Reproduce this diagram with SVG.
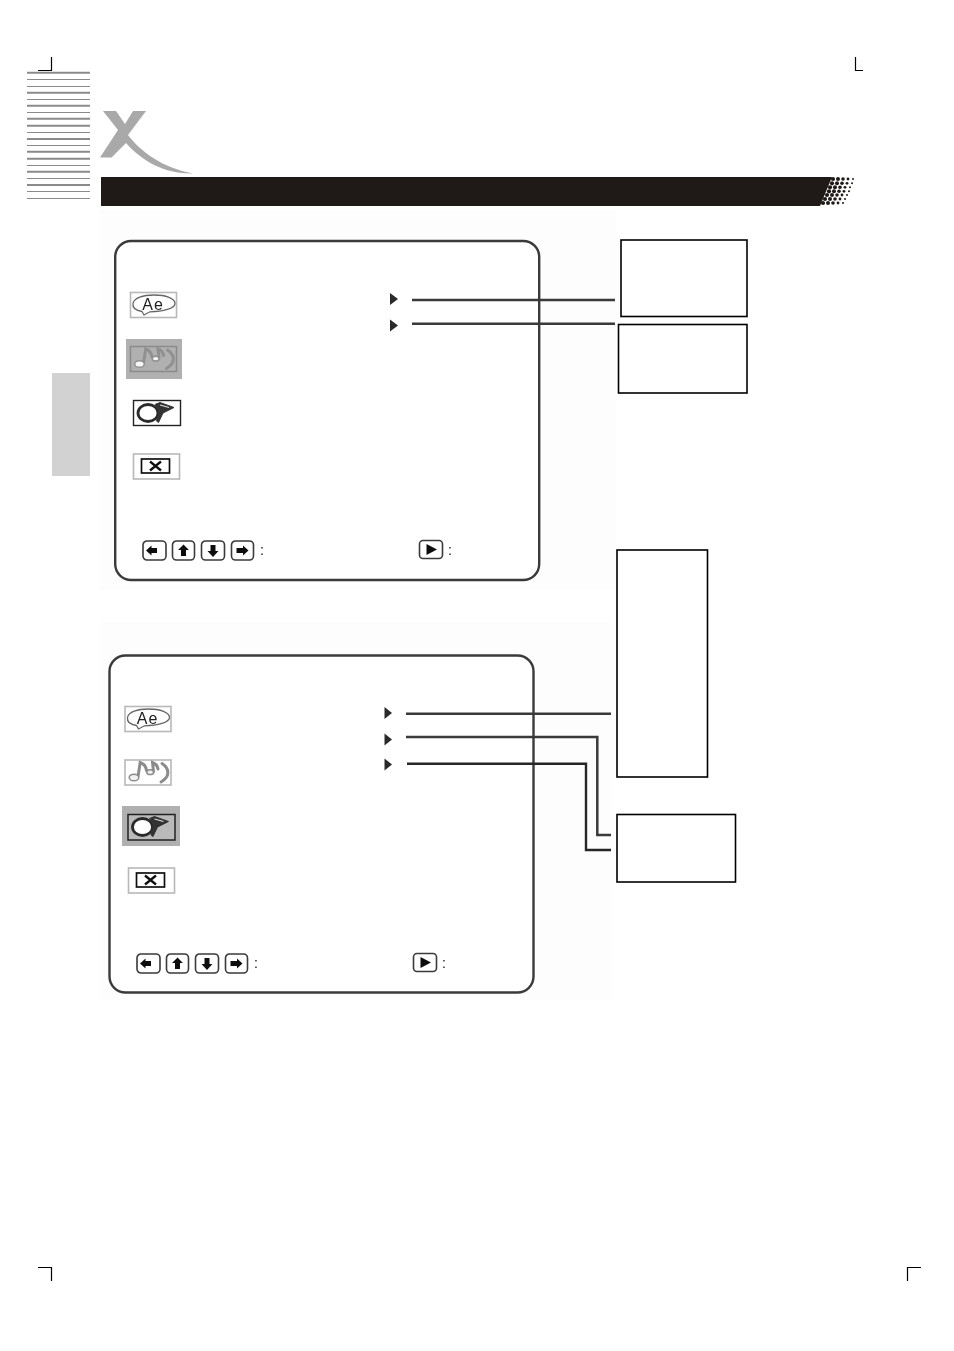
<svg xmlns="http://www.w3.org/2000/svg" width="954" height="1351" viewBox="0 0 954 1351">
<style>
.crop{fill:none;stroke:#000;stroke-width:1.2}
.thick{stroke:#8a8a8a;stroke-width:2}
.thin{stroke:#8a8a8a;stroke-width:1}
.panel{fill:#fff;stroke:#3a3a3a;stroke-width:2.4}
.box{fill:#fff;stroke:#000;stroke-width:1.6}
.conn{fill:none;stroke:#3a3a3a;stroke-width:2.5}
.conn2{fill:none;stroke:#262626;stroke-width:2.4}
.key{fill:#fff;stroke:#3a3a3a;stroke-width:1.6}
.glyph{fill:#111}
.colon{font-family:"Liberation Sans",Arial,sans-serif;font-size:14px;fill:#111}
.ae{font-family:"Liberation Sans",Arial,sans-serif;font-size:16px;fill:#222;text-anchor:middle;letter-spacing:1px}
.tri{fill:#2a2a2a}
.soft{filter:url(#soft)}
</style>
<defs>
<filter id="soft" x="-10%" y="-10%" width="120%" height="120%"><feGaussianBlur stdDeviation="0.4"/></filter>
<g id="speech" class="soft">
<rect x="0.500" y="0.500" width="46" height="25" fill="#fff" stroke="#b8b8b8" stroke-width="1.600"/>
<path d="M12 19.500C5 18.500 2.500 15 3 11.500C4 6 13 3 24 3C36 3 45 6.500 45 11.500C45 16.500 33 19.500 20 19.800L14 23Z" fill="#fff" stroke="#666" stroke-width="1.300"/>
<text class="ae" x="23" y="17.500">Ae</text>
</g>
<g id="notes" class="soft">
<path d="M13.500 17L15.700 3C19 4 21.500 7 22 11M29 12L28 3C31 4 33 6.500 33.500 9.500M37.500 4C45 9 46 17 36.500 22.500" fill="none" stroke-width="3" stroke-linecap="round"/>
<ellipse cx="9.500" cy="18" rx="4.800" ry="3.300" stroke-width="1.500"/>
<ellipse cx="25.700" cy="12.700" rx="3.400" ry="2.400" stroke-width="1.500"/>
</g>
<g id="horn" class="soft">
<ellipse cx="15" cy="13" rx="10" ry="8.500" stroke="#2c2c2c" stroke-width="2.800"/>
<path d="M22 4.500L27 2.500L41 7.500L30 13L25.500 22.500L23.500 21L26.500 11Z" fill="#333" stroke="#333" stroke-width="1" stroke-linejoin="round"/>
<path d="M27 5L36 7.500" stroke="#ddd" stroke-width="1.200"/>
</g>
<g id="cancel" class="soft">
<rect x="0.500" y="0.500" width="46" height="25" fill="#fff" stroke="#b8b8b8" stroke-width="1.600"/>
<rect x="8.500" y="5.500" width="28" height="14" fill="#fff" stroke="#111" stroke-width="1.700"/>
<path d="M17 8L28 17M28 8L17 17" stroke="#111" stroke-width="2.300"/>
</g>
<g id="keys" class="soft">
<rect class="key" x="0" y="0" width="23" height="19" rx="4"/>
<rect class="key" x="29.500" y="0" width="22" height="19" rx="4"/>
<rect class="key" x="58.500" y="0" width="23" height="19" rx="4"/>
<rect class="key" x="88.500" y="0" width="22" height="19" rx="4"/>
<path class="glyph" d="M3 9.500L8.500 4.500V7H14V12H8.500V14.500Z"/>
<path class="glyph" d="M40.500 3.500L46 9H43V15H38V9H35Z"/>
<path class="glyph" d="M70 16L64.500 10H67.500V4H72.500V10H75.500Z"/>
<path class="glyph" d="M105.500 9.500L100 4.500V7H93.500V12H100V14.500Z"/>
<rect class="key" x="276.500" y="-0.500" width="23" height="18" rx="3.500"/>
<path class="glyph" d="M283.500 3L294 8.500L283.500 14Z"/>
<text class="colon" x="117" y="14">:</text>
<text class="colon" x="305" y="14">:</text>
</g>
<g id="dots">
<circle cx="0" cy="0" r="2.100"/>
<circle cx="5" cy="0" r="2"/>
<circle cx="10" cy="0" r="1.800"/>
<circle cx="15" cy="0" r="1.400"/>
<circle cx="20" cy="0" r="1"/>
</g>
</defs>

<rect width="954" height="1351" fill="#fff"/>
<rect x="100" y="210" width="516" height="380" fill="#fdfdfd"/>
<rect x="100" y="622" width="512" height="378" fill="#fdfdfd"/>

<g id="crop-marks">
<path class="crop" d="M38 70.500H51.500V57"/>
<path class="crop" d="M855.500 57V70.500H863"/>
<path class="crop" d="M38 1267.500H51.500V1281"/>
<path class="crop" d="M921 1267.500H907.500V1281"/>
</g>

<g id="stripes">
<path class="thick" d="M27 72.700H90M27 92.700H90M27 105.700H90M27 118.700H90M27 125.700H90M27 139H90M27 151.700H90M27 158.700H90M27 171.700H90M27 185H90"/>
<path class="thin" d="M27 79.500H90M27 86.500H90M27 99.500H90M27 112.500H90M27 132.500H90M27 145.500H90M27 165.500H90M27 178.500H90M27 191.500H90M27 198.500H90"/>
</g>

<g id="logo">
<path fill="#a9a9a9" d="M103 111H116L125 124L133 111H146L128 135C141 152 163 168 193 173.500C165 174 143 162 126 143L111.500 157.500H100L118 130Z"/>
</g>

<g id="header-bar">
<path fill="#1f1a17" d="M101 177H832L820 206H101Z"/>
<g fill="#1f1a17">
<use href="#dots" x="833" y="179"/>
<use href="#dots" x="832" y="183.300"/>
<use href="#dots" x="830" y="187.300"/>
<use href="#dots" x="829" y="191.300"/>
<use href="#dots" x="827" y="195"/>
<use href="#dots" x="825" y="199"/>
<use href="#dots" x="823" y="203"/>
</g>
</g>

<rect id="side-tab" x="52" y="373" width="38" height="103" fill="#d2d2d2"/>

<g id="panel-top">
<rect class="panel" x="115.200" y="241" width="424" height="339" rx="16"/>
<use href="#speech" x="130" y="292"/>
<g id="top-music">
<rect x="126" y="339" width="56" height="40" fill="#b0b0b0"/>
<rect x="130.500" y="346.500" width="46" height="25" fill="none" stroke="#8a8a8a" stroke-width="1.500"/>
<use href="#notes" x="130" y="346" fill="#f8f8f8" stroke="#909090"/>
</g>
<g id="top-horn">
<rect x="133.500" y="400.500" width="47" height="25" fill="#fff" stroke="#222" stroke-width="1.400"/>
<use href="#horn" x="133" y="400" fill="#fff"/>
</g>
<use href="#cancel" x="133" y="453.500"/>
<use href="#keys" x="143" y="541"/>
<path class="tri" d="M390 293L398 299L390 305Z"/>
<path class="tri" d="M390 319.500L398 325.500L390 331.500Z"/>
</g>

<g id="panel-bottom">
<rect class="panel" x="109.500" y="655.500" width="424" height="337" rx="16"/>
<use href="#speech" x="124.500" y="706"/>
<g id="bottom-music">
<rect x="125" y="760" width="46" height="25" fill="#fff" stroke="#b8b8b8" stroke-width="1.600"/>
<use href="#notes" x="124.500" y="759.500" fill="#f2f2f2" stroke="#8c8c8c"/>
</g>
<g id="bottom-horn">
<rect x="122" y="806" width="58" height="40" fill="#b0b0b0"/>
<rect x="128" y="814.500" width="47" height="25.500" fill="#bababa" stroke="#222" stroke-width="1.500"/>
<use href="#horn" x="127.500" y="814" fill="#fff"/>
</g>
<use href="#cancel" x="128" y="867.500"/>
<use href="#keys" x="137" y="954"/>
<path class="tri" d="M384.500 707L392 713L384.500 719Z"/>
<path class="tri" d="M384.500 733.500L392 739.500L384.500 745.500Z"/>
<path class="tri" d="M384.500 758.500L392 764.500L384.500 770.500Z"/>
</g>

<g id="box-1"><rect class="box" x="621" y="240" width="126" height="76.500"/></g>
<g id="box-2"><rect class="box" x="618.500" y="324.500" width="128.500" height="68.500"/></g>
<g id="box-3"><rect class="box" x="617" y="550" width="90.500" height="227"/></g>
<g id="box-4"><rect class="box" x="617" y="814.500" width="118.500" height="67.500"/></g>

<g id="connectors">
<path class="conn" d="M412 300H615"/>
<path class="conn" d="M412 323.700H615"/>
<path class="conn" d="M406 713.700H611"/>
<path class="conn" d="M406 737H597.300V835H611"/>
<path class="conn2" d="M407 763.700H586V850H611"/>
</g>
</svg>
